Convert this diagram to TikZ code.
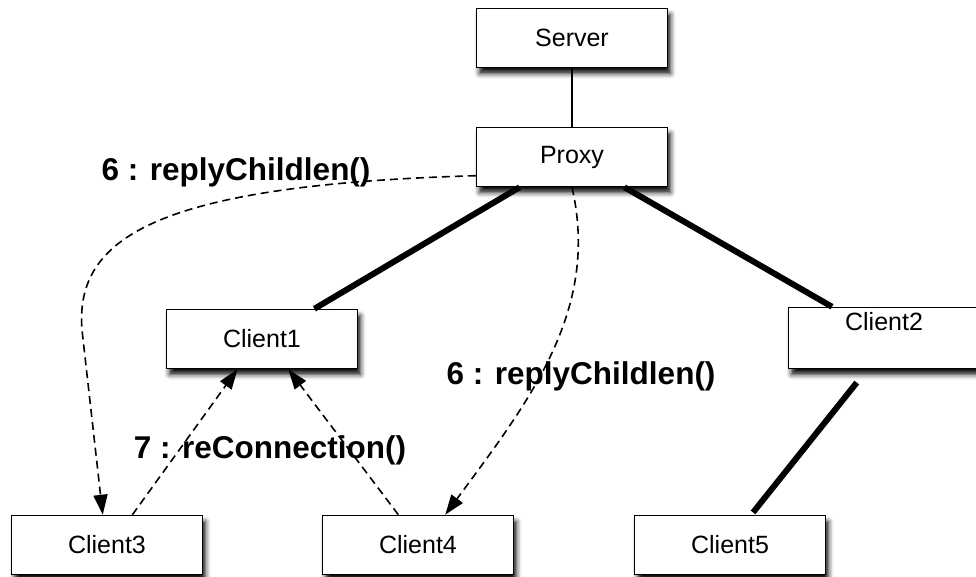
\documentclass[tikz,border=0pt]{standalone}
\usepackage{fontspec}
\setmainfont{Liberation Sans}
\usetikzlibrary{arrows.meta,shadows.blur}
\begin{document}
\begin{tikzpicture}
[x=1pt,y=-1pt,
  nodedecorate/.style={shape=rectangle,draw,line width=1.5pt,fill=white,minimum width=191pt,minimum height=59pt,inner sep=0pt,font=\fontsize{25}{30}\selectfont,blur shadow={shadow xshift=3pt,shadow yshift=-6pt,shadow blur radius=5pt,shadow opacity=95}},%
  linedecorate/.style={-,line width=6pt},%
  thindecorate/.style={-,line width=1.5pt},%
  dashdecorate/.style={line width=1.6pt,dash pattern=on 8pt off 5pt,-{Triangle[length=20pt,width=14pt]}},%
  labeldecorate/.style={font=\fontsize{31.5}{36}\selectfont\bfseries}]
\useasboundingbox (0,0) rectangle (976,576);
% nodes or boxes
\node (server) at (572,38) [nodedecorate] {Server};
\node (proxy) at (572,157) [nodedecorate] {Proxy};
\node (client1) at (262,339) [nodedecorate] {Client1};
\node (client2) at (884,338) [nodedecorate,minimum height=61pt,label={[font=\fontsize{25}{30}\selectfont,anchor=north,inner sep=5pt]north:Client2}] {};
\node (client3) at (107,545) [nodedecorate] {Client3};
\node (client4) at (418,545) [nodedecorate] {Client4};
\node (client5) at (730,545) [nodedecorate] {Client5};
% labels
\node (reply1) at (236,172) [labeldecorate] {6 : replyChildlen()};
\node (reply2) at (581,376) [labeldecorate] {6 : replyChildlen()};
\node (reconnect) at (270,450) [labeldecorate] {7 : reConnection()};
% edges or lines
\path
(server) edge[thindecorate] (proxy)
(proxy.210) edge[linedecorate] (client1.30)
(proxy.330) edge[linedecorate] (client2.149)
(client2.242) edge[linedecorate,shorten <=17pt,shorten >=3pt] (client5.55);
% dashed messages
\draw[dashdecorate] (proxy.191) .. controls (150,185) and (75,240) .. (82,330) -- (client3.98);
\draw[dashdecorate] (proxy.south) .. controls (600,310) and (530,400) .. (client4.48);
\draw[dashdecorate] (client3.50) -- (client1.231);
\draw[dashdecorate] (client4.123) -- (client1.311);
\end{tikzpicture}
\end{document}
